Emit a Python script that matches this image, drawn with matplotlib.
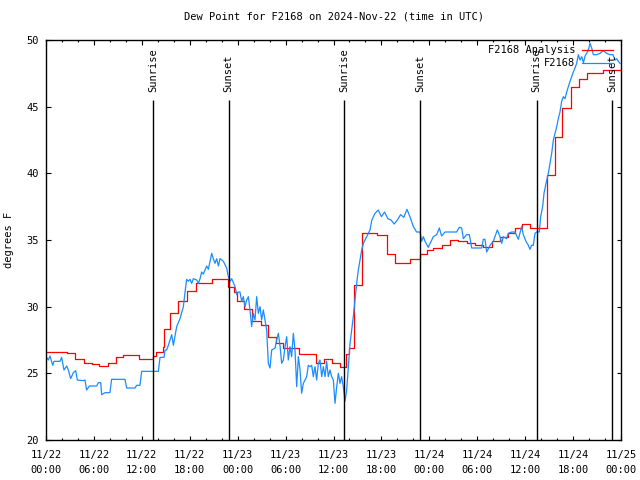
import numpy as np
import pandas as pd
import matplotlib
matplotlib.use("Agg")
import matplotlib.pyplot as plt
import matplotlib.dates as mdates

# ---------------- data ----------------
start = pd.Timestamp("2024-11-22 00:00")

# analysis (red, step) : change times in hours after start, values in deg F
analysis_hours = [0.0, 2.59, 3.63, 4.8, 5.72, 6.68, 7.8, 8.76, 9.68, 11.68, 13.44, 13.77,
                  14.6, 14.77, 15.52, 16.57, 17.7, 18.78, 20.75, 22.83, 23.6, 23.96, 24.8,
                  25.84, 26.88, 27.76, 28.76, 29.72, 31.68, 33.77, 34.81, 35.85, 36.8, 37.57,
                  37.98, 38.6, 39.53, 41.4, 42.7, 43.7, 45.6, 46.8, 47.67, 48.5, 49.55, 50.6,
                  51.63, 52.67, 53.7, 54.77, 55.8, 56.85, 57.9, 58.7, 59.6, 60.6, 62.7, 63.7,
                  64.6, 65.7, 66.7, 67.7, 69.8, 72.0]
analysis_vals = [26.62, 26.5, 26.07, 25.75, 25.7, 25.55, 25.75, 26.25, 26.35, 26.07, 26.3, 26.6,
                 27.0, 28.3, 29.5, 30.4, 31.2, 31.8, 32.1, 31.5, 31.1, 30.4, 29.8,
                 28.9, 28.6, 27.75, 27.3, 26.9, 26.45, 25.75, 26.07, 25.75, 25.5, 26.45,
                 26.9, 31.6, 35.5, 35.4, 33.95, 33.25, 33.6, 33.95, 34.25, 34.4, 34.6, 35.0,
                 34.9, 34.75, 34.6, 34.5, 34.9, 35.2, 35.5, 35.9, 36.2, 35.9, 39.9, 42.75,
                 44.9, 46.5, 47.05, 47.5, 47.75, 47.75]

# observations (blue)
obs_hours = [0.0, 0.29, 0.5, 0.84, 1.0, 1.75, 1.96, 2.25, 2.59, 2.8, 3.09, 3.42, 3.72, 3.92,
             4.68, 4.88, 5.09, 5.43, 6.35, 6.55, 6.85, 6.97, 7.39, 8.0, 8.22, 9.89, 10.1,
             11.15, 11.35, 11.77, 11.98, 14.07, 14.28, 14.78, 14.9, 15.11, 15.32, 15.74,
             15.95, 16.15, 16.36, 16.78, 17.2, 17.41, 17.61, 17.82, 18.03, 18.24, 18.45,
             18.87, 19.08, 19.29, 19.49, 19.7, 20.12, 20.33, 20.54, 20.75, 20.95, 21.16,
             21.37, 21.58, 21.79, 22.21, 22.62, 22.83, 23.04, 23.25, 23.67, 23.88, 24.08,
             24.29, 24.5, 24.71, 24.92, 25.13, 25.34, 25.54, 25.75, 25.96, 26.17, 26.38,
             26.59, 26.8, 27.0, 27.21, 27.42, 27.63, 27.84, 28.05, 28.26, 28.68, 28.88,
             29.09, 29.3, 29.51, 29.72, 29.93, 30.14, 30.34, 30.55, 30.76, 30.97, 31.18,
             31.39, 31.6, 31.81, 32.01, 32.22, 32.64, 32.85, 33.06, 33.27, 33.47, 33.68,
             33.89, 34.1, 34.31, 34.52, 34.73, 34.94, 35.14, 35.35, 35.56, 35.77, 35.98,
             36.19, 36.4, 36.61, 36.81, 37.02, 37.23, 37.44, 37.65, 37.86, 38.07, 38.27,
             38.48, 38.69, 38.9, 39.11, 39.32, 39.53, 39.74, 40.15, 40.57, 40.8, 41.2,
             41.6, 42.0, 42.4, 42.8, 43.2, 43.6, 44.0, 44.4, 44.8, 45.2, 45.6, 46.0, 46.4,
             46.83, 47.04, 47.25, 47.46, 47.87, 48.5, 48.92, 49.25, 49.54, 49.96, 51.42,
             51.76, 52.05, 52.26, 52.67, 53.01, 53.3, 54.55, 54.76, 54.97, 55.18, 55.6,
             56.01, 56.22, 56.51, 56.85, 57.06, 57.26, 57.68, 57.89, 58.31, 58.73, 59.14,
             59.56, 59.77, 60.1, 60.4, 60.6, 60.81, 61.02, 61.23, 61.44, 61.77, 61.94,
             62.19, 62.36, 62.61, 62.9, 63.11, 63.32, 63.53, 63.74, 63.95, 64.15, 64.36,
             64.57, 64.78, 64.99, 65.2, 65.41, 65.62, 65.82, 66.03, 66.24, 66.45, 66.66,
             66.87, 67.08, 67.3, 67.5, 67.7, 67.91, 68.12, 68.33, 68.54, 68.95, 69.37,
             69.79, 70.2, 70.62, 71.0, 71.25, 71.45, 71.67, 71.88]
obs_vals = [26.25, 26.0, 26.3, 25.6, 25.9, 25.9, 26.2, 25.25, 25.55, 25.25, 24.6, 25.05, 25.2, 24.5,
            24.45, 24.5, 23.75, 24.05, 24.05, 24.3, 24.3, 23.4, 23.55, 23.55, 24.55, 24.55, 23.9,
            23.9, 24.1, 24.1, 25.15, 25.15, 26.2, 26.2, 26.75, 26.75, 27.1, 27.9,
            27.1, 27.8, 28.5, 29.1, 30.0, 31.1, 32.05, 31.9, 32.05, 31.75, 32.1,
            32.0, 31.75, 32.1, 32.6, 32.45, 33.05, 32.8, 33.4, 34.0, 33.6, 33.25,
            33.6, 33.05, 33.6, 33.4, 32.9, 32.25, 31.9, 32.1, 31.5, 30.9, 31.1,
            31.1, 30.4, 30.75, 30.0, 30.5, 30.75, 29.75, 28.5, 29.5, 29.0, 30.75,
            29.5, 30.0, 29.0, 29.75, 29.0, 28.25, 25.75, 25.4, 26.75, 26.9, 27.5,
            28.0, 27.1, 25.75, 26.0, 27.0, 27.75, 26.0, 27.0, 26.25, 28.0, 26.75,
            24.0, 26.25, 25.25, 23.5, 24.25, 24.75, 25.6, 25.5, 25.6, 24.75, 25.5,
            24.5, 25.75, 26.0, 24.75, 25.5, 24.75, 25.9, 24.75, 25.25, 24.75, 24.5,
            22.75, 24.0, 25.0, 24.25, 24.75, 24.0, 22.9, 23.75, 25.5, 27.25, 28.25,
            29.25, 30.5, 31.75, 32.75, 33.5, 34.25, 34.75, 35.25, 35.75, 36.5, 37.0,
            37.25, 36.75, 37.1, 36.6, 36.5, 36.2, 36.5, 36.9, 36.7, 37.3, 36.7, 36.0, 35.6,
            35.6, 34.9, 35.25, 34.9, 34.45, 35.25, 35.4, 35.9, 35.3, 35.6, 35.6,
            35.95, 35.9, 35.1, 35.4, 35.4, 34.4, 34.4, 35.05, 35.05, 34.1, 34.6,
            34.9, 35.25, 35.75, 35.25, 34.75, 35.25, 35.1, 35.5, 35.6, 35.6, 35.05,
            36.0, 35.4, 34.9, 34.6, 34.3, 34.6, 34.6, 35.5, 35.6, 35.6, 36.75,
            37.5, 38.5, 39.25, 40.0, 40.75, 41.5, 42.5, 43.0, 43.5, 44.1, 44.6,
            45.4, 45.75, 45.6, 46.1, 46.5, 46.9, 47.25, 47.6, 47.9, 48.25, 48.9,
            48.5, 48.75, 48.3, 48.8, 49.0, 49.25, 49.75, 49.4, 48.9, 48.9, 49.0,
            49.2, 49.0, 48.9, 48.9, 48.5, 48.6, 48.4, 48.25]

sunrise_hours = [13.37, 37.36, 61.42]
sunset_hours = [22.88, 46.87, 70.87]

title = "Dew Point for F2168 on 2024-Nov-22 (time in UTC)"
ylabel = "degrees F"
analysis_label = "F2168 Analysis"
obs_label = "F2168"

# ---------------- plot ----------------
FONT = "DejaVu Sans Mono"
FS = 7.5
plt.rcParams['font.family'] = [FONT]

fig = plt.figure(figsize=(6.4, 4.8), dpi=100)
ax = fig.add_axes([46/640, 40/480, 575/640, 400/480])

def to_time(hours):
    return start + pd.to_timedelta(np.asarray(hours, dtype=float), unit="h")

ax.plot(to_time(analysis_hours), analysis_vals, drawstyle="steps-post",
        color="#ff0000", lw=0.9, label=analysis_label)
ax.plot(to_time(obs_hours), obs_vals, color="#1a8cff", lw=0.9, label=obs_label)

ax.set_xlim(to_time([0])[0], to_time([72])[0])
ax.set_ylim(20, 50)

for h in sunrise_hours:
    t = to_time([h])[0]
    ax.vlines(t, 20, 45.5, color="black", lw=1)
    ax.text(t, 46.1, "Sunrise", rotation=90, ha="center", va="bottom", fontsize=FS)
for h in sunset_hours:
    t = to_time([h])[0]
    ax.vlines(t, 20, 45.5, color="black", lw=1)
    ax.text(t, 46.1, "Sunset", rotation=90, ha="center", va="bottom", fontsize=FS)

ax.xaxis.set_major_locator(mdates.HourLocator(byhour=[0, 6, 12, 18]))
ax.xaxis.set_minor_locator(mdates.HourLocator(byhour=range(0, 24, 2)))
ax.xaxis.set_major_formatter(mdates.DateFormatter("%m/%d\n%H:%M"))
ax.set_yticks(np.arange(20, 51, 5))

ax.tick_params(axis="both", which="both", direction="in", top=True, right=True,
               labelsize=FS, colors="black")
ax.tick_params(which="major", length=4.5*0.72, width=0.8)
ax.tick_params(which="minor", length=2.5*0.72, width=0.8)
ax.tick_params(axis="x", pad=7)
ax.tick_params(axis="y", pad=5)
for lab in ax.get_xticklabels():
    lab.set_linespacing(1.6)
for s in ax.spines.values():
    s.set_linewidth(1)

ax.set_title(title, fontsize=FS, pad=15)
ax.set_ylabel(ylabel, fontsize=FS, labelpad=9)

leg = ax.legend(loc="upper right", frameon=False, markerfirst=False, fontsize=FS,
                handlelength=3.0, handletextpad=0.6, labelspacing=0.3,
                borderaxespad=0.4, borderpad=0.1, bbox_to_anchor=(0.995, 1.0))

fig.savefig("out.png", dpi=100)
